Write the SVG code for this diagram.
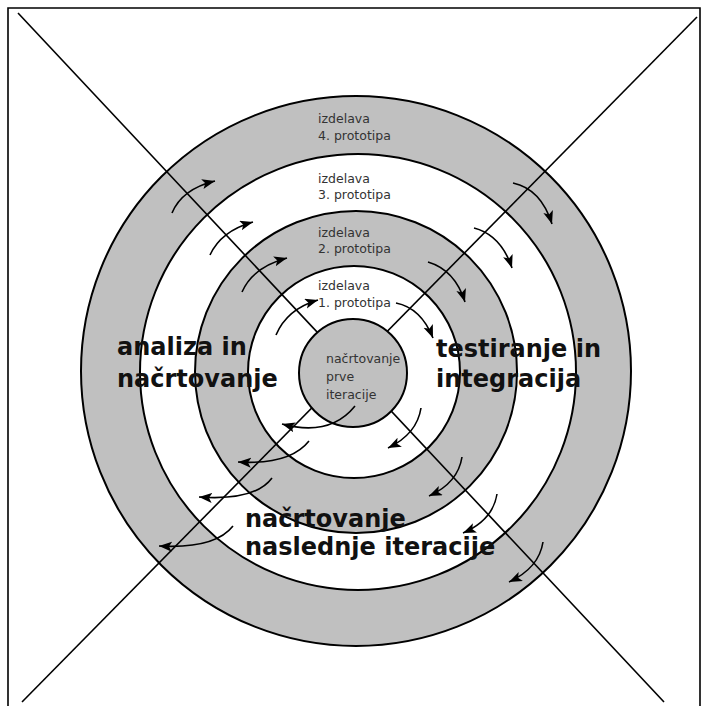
<svg xmlns="http://www.w3.org/2000/svg" width="708" height="706" viewBox="0 0 708 706">
  <style>
    .ring { stroke: #000; stroke-width: 2; }
    .grey { fill: #c0c0c0; }
    .white { fill: #ffffff; }
    .axis { stroke: #000; stroke-width: 1.6; fill: none; }
    .flow { stroke: #000; stroke-width: 1.6; fill: none; marker-end: url(#head); }
    .small { font-family: "DejaVu Sans", "Liberation Sans", sans-serif; font-size: 12.5px; fill: #333; }
    .phase { font-family: "DejaVu Sans", "Liberation Sans", sans-serif; font-size: 24px; font-weight: bold; fill: #111; }
  </style>
  <defs>
    <marker id="head" markerUnits="userSpaceOnUse" markerWidth="14" markerHeight="12" refX="13" refY="5" orient="auto">
      <path d="M0,0 L13,5 L0,10 L3,5 z" fill="#000"/>
    </marker>
  </defs>

  <rect x="0" y="0" width="708" height="706" fill="#fff"/>
  <!-- frame -->
  <path d="M8,720 L8,8 L700,8 L700,720" fill="none" stroke="#000" stroke-width="1.6"/>

  <!-- concentric iteration rings, outermost first -->
  <g id="ring-4">
    <circle class="ring grey" cx="356" cy="371" r="275"/>
  </g>
  <g id="ring-3">
    <circle class="ring white" cx="358" cy="372" r="218"/>
  </g>
  <g id="ring-2">
    <circle class="ring grey" cx="356" cy="372" r="161"/>
  </g>
  <g id="ring-1">
    <circle class="ring white" cx="354" cy="372" r="106"/>
  </g>

  <!-- quadrant dividers -->
  <g id="axes">
    <line class="axis" x1="18" y1="13" x2="664" y2="702"/>
    <line class="axis" x1="697" y1="17" x2="22" y2="702"/>
  </g>

  <!-- centre: first iteration planning -->
  <g id="centre">
    <circle class="ring grey" cx="353" cy="373" r="54"/>
    <text class="small" font-size="13">
      <tspan x="326" y="363">načrtovanje</tspan>
      <tspan x="326" y="381">prve</tspan>
      <tspan x="326" y="399">iteracije</tspan>
    </text>
  </g>

  <!-- ring labels -->
  <g id="label-4">
    <text class="small"><tspan x="318" y="123">izdelava</tspan><tspan x="318" y="140">4. prototipa</tspan></text>
  </g>
  <g id="label-3">
    <text class="small"><tspan x="318" y="183">izdelava</tspan><tspan x="318" y="199">3. prototipa</tspan></text>
  </g>
  <g id="label-2">
    <text class="small"><tspan x="318" y="237">izdelava</tspan><tspan x="318" y="253">2. prototipa</tspan></text>
  </g>
  <g id="label-1">
    <text class="small"><tspan x="318" y="290">izdelava</tspan><tspan x="318" y="307">1. prototipa</tspan></text>
  </g>

  <!-- clockwise flow arrows in every ring -->
  <g id="connectors">
    <!-- upper left -->
    <path class="flow" d="M172,213 Q182,189 215,181"/>
    <path class="flow" d="M210,255 Q221,231 253,222"/>
    <path class="flow" d="M242,292 Q253,267 287,258"/>
    <path class="flow" d="M276,335 Q287,309 318,300"/>
    <!-- upper right -->
    <path class="flow" d="M513,183 Q541,189 552,224"/>
    <path class="flow" d="M474,228 Q501,235 512,268"/>
    <path class="flow" d="M428,262 Q455,270 465,302"/>
    <path class="flow" d="M396,303 Q421,308 433,338"/>
    <!-- lower right -->
    <path class="flow" d="M421,408 Q417,434 388,448"/>
    <path class="flow" d="M462,457 Q458,483 429,496"/>
    <path class="flow" d="M497,494 Q493,520 463,533"/>
    <path class="flow" d="M543,542 Q539,568 509,582"/>
    <!-- lower left -->
    <path class="flow" d="M355,406 Q330,437 282,424"/>
    <path class="flow" d="M309,441 Q290,465 238,462"/>
    <path class="flow" d="M272,478 Q255,501 199,497"/>
    <path class="flow" d="M233,526 Q215,549 159,546"/>
  </g>

  <!-- phase labels -->
  <g id="phase-analysis">
    <text class="phase"><tspan x="117" y="355">analiza in</tspan><tspan x="117" y="387">načrtovanje</tspan></text>
  </g>
  <g id="phase-testing">
    <text class="phase"><tspan x="436" y="357">testiranje in</tspan><tspan x="436" y="387">integracija</tspan></text>
  </g>
  <g id="phase-planning">
    <text class="phase"><tspan x="245" y="527">načrtovanje</tspan><tspan x="245" y="555">naslednje iteracije</tspan></text>
  </g>
</svg>
